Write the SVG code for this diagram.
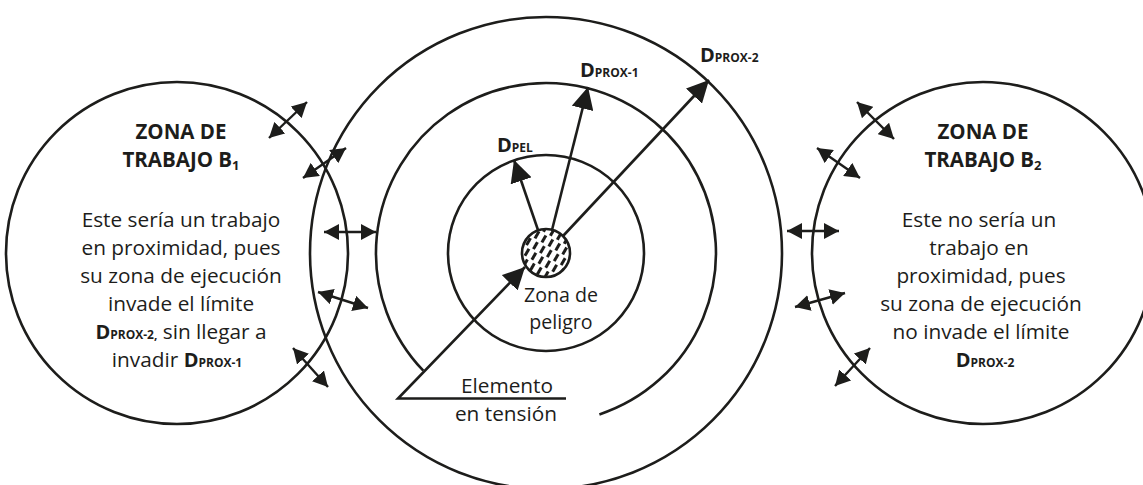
<svg xmlns="http://www.w3.org/2000/svg" width="1143" height="485" viewBox="0 0 1143 485">
<defs>
<style>
.c{fill:none;stroke:#1d1d1b;stroke-width:2.6}
.a{fill:none;stroke:#1d1d1b;stroke-width:2.6;marker-end:url(#ah)}
.d{fill:none;stroke:#1d1d1b;stroke-width:2.4;marker-start:url(#dh);marker-end:url(#dh)}
text{font-family:"Open Sans","Noto Sans","Liberation Sans",sans-serif;fill:#1d1d1b}
.t{font-size:20.8px;text-anchor:middle}
.z{font-size:19.6px;text-anchor:middle}
.h{font-size:20.5px;font-weight:700;text-anchor:middle}
.D{font-size:20px;font-weight:700}
.s{font-size:12px;font-weight:700}
.sub{font-size:13px;font-weight:700}
</style>
<marker id="ah" viewBox="0 0 22 22" refX="22" refY="11" markerWidth="22" markerHeight="22" markerUnits="userSpaceOnUse" orient="auto"><path d="M0,0L22,11L0,22z" fill="#1d1d1b"/></marker>
<marker id="dh" viewBox="0 0 15 16" refX="15" refY="8" markerWidth="15" markerHeight="16" markerUnits="userSpaceOnUse" orient="auto-start-reverse"><path d="M0,0L15,8L0,16z" fill="#1d1d1b"/></marker>
<pattern id="hatch" width="8" height="20" patternUnits="userSpaceOnUse" patternTransform="rotate(30)"><rect x="1" y="1" width="3" height="8" fill="#1d1d1b"/><rect x="5" y="11" width="3" height="8" fill="#1d1d1b"/></pattern>
</defs>
<rect width="1143" height="485" fill="#fff"/>

<g id="zona-b1">
<circle class="c" cx="177" cy="253" r="171"/>
<text class="h" x="181" y="139">ZONA DE</text>
<text class="h" x="181" y="167">TRABAJO B<tspan class="sub" dy="3">1</tspan></text>
<text class="t" x="181" y="227">Este sería un trabajo</text>
<text class="t" x="181" y="255">en proximidad, pues</text>
<text class="t" x="181" y="283">su zona de ejecución</text>
<text class="t" x="181" y="311">invade el límite</text>
<text class="t" x="181" y="339"><tspan class="D">D</tspan><tspan class="s">PROX-2,</tspan> sin llegar a</text>
<text class="t" x="177" y="367">invadir <tspan class="D">D</tspan><tspan class="s">PROX-1</tspan></text>
</g>

<g id="zona-b2">
<circle class="c" cx="983" cy="253" r="171"/>
<text class="h" x="983" y="139">ZONA DE</text>
<text class="h" x="983" y="167">TRABAJO B<tspan class="sub" dy="3">2</tspan></text>
<text class="t" x="979" y="227">Este no sería un</text>
<text class="t" x="979" y="255">trabajo en</text>
<text class="t" x="981" y="283">proximidad, pues</text>
<text class="t" x="981" y="311">su zona de ejecución</text>
<text class="t" x="981" y="339">no invade el límite</text>
<text class="t" x="985" y="367"><tspan class="D">D</tspan><tspan class="s">PROX-2</tspan></text>
</g>

<g id="limite-dprox2">
<circle class="c" cx="546" cy="253" r="236"/>
<text x="700" y="62"><tspan class="D">D</tspan><tspan class="s">PROX-2</tspan></text>
</g>

<g id="limite-dprox1">
<path class="c" d="M599.4,414.4A170,170 0 1 0 423.3,370.7"/>
<text x="580" y="77"><tspan class="D">D</tspan><tspan class="s">PROX-1</tspan></text>
</g>

<g id="limite-dpel">
<circle class="c" cx="546" cy="253" r="98"/>
<text x="497" y="152"><tspan class="D">D</tspan><tspan class="s">PEL</tspan></text>
</g>

<g id="zona-peligro">
<circle cx="546" cy="253" r="24" fill="url(#hatch)" stroke="#1d1d1b" stroke-width="2.6"/>
<text class="z" x="561" y="302">Zona de</text>
<text class="z" x="561" y="329">peligro</text>
</g>

<g id="elemento-tension">
<text class="t" x="507" y="393">Elemento</text>
<text class="t" x="506" y="421">en tensión</text>
</g>

<g id="connectors">
<path class="a" d="M566,398.5L398,398.5L525,267"/>
<path class="a" d="M538,230L514,160"/>
<path class="a" d="M552,230L588,87"/>
<path class="a" d="M563,236L709,80"/>
<line class="d" x1="269" y1="138" x2="307" y2="102"/>
<line class="d" x1="303" y1="178" x2="346" y2="148"/>
<line class="d" x1="324" y1="232" x2="376" y2="232"/>
<line class="d" x1="318" y1="292" x2="368" y2="308"/>
<line class="d" x1="293" y1="348" x2="328" y2="387"/>
<line class="d" x1="857" y1="102" x2="894" y2="139"/>
<line class="d" x1="817" y1="148" x2="860" y2="178"/>
<line class="d" x1="787" y1="231" x2="839" y2="231"/>
<line class="d" x1="795" y1="307" x2="845" y2="293"/>
<line class="d" x1="835" y1="386" x2="870" y2="348"/>
</g>
</svg>
